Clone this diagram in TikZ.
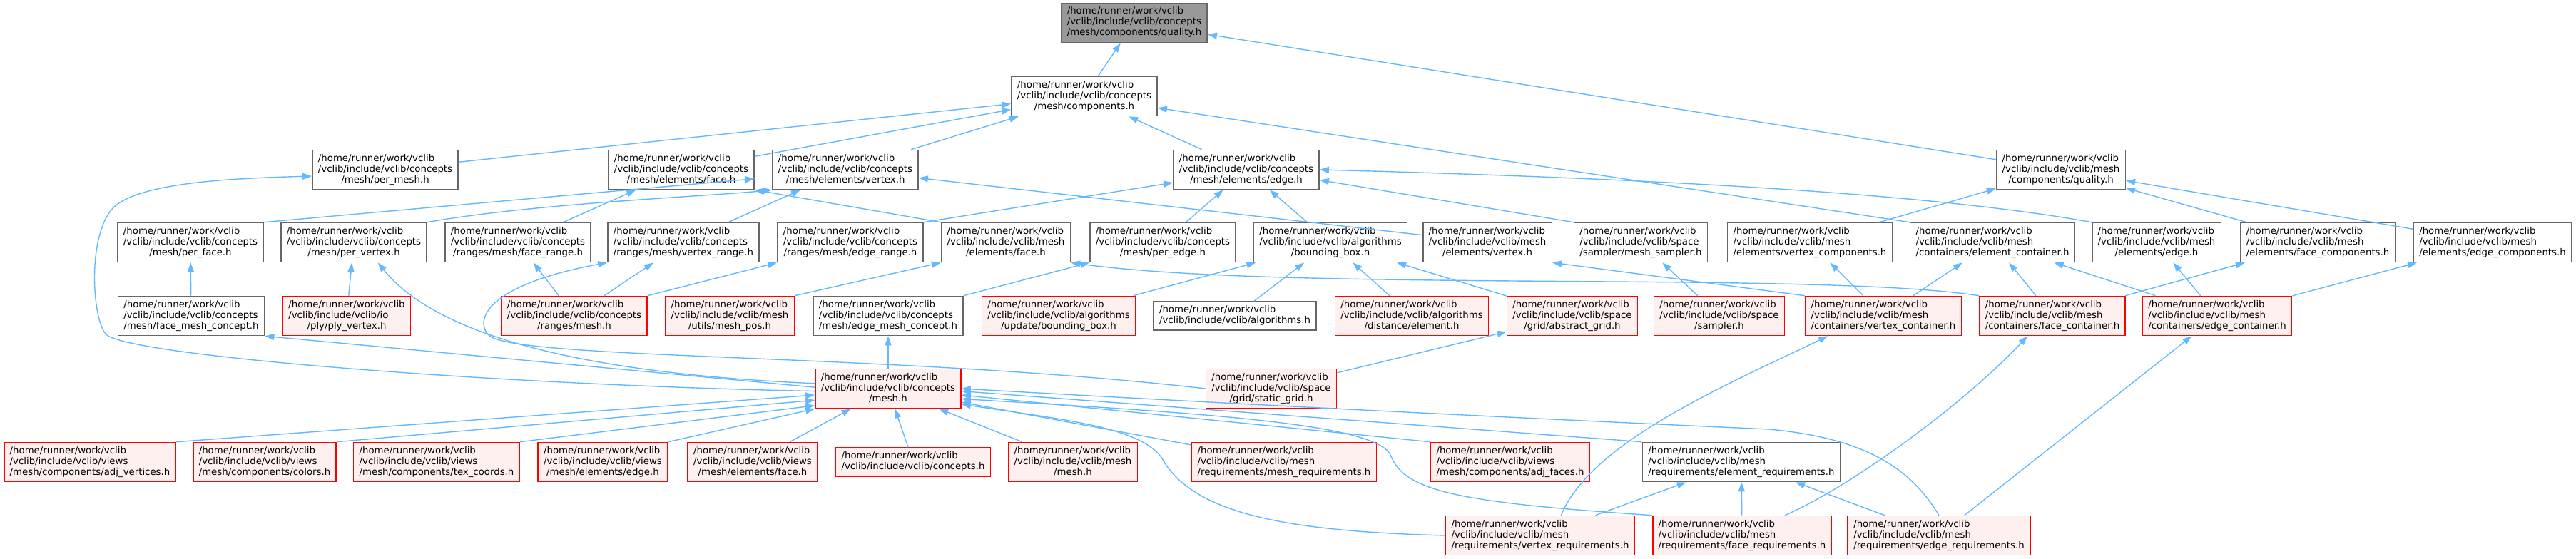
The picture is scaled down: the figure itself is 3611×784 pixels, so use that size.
\documentclass[tikz,border=0pt]{standalone}
\usepackage{fontspec}
\setmainfont{DejaVu Sans}
\usepackage{tikz}
\usetikzlibrary{arrows.meta}

\definecolor{depblue}{HTML}{63B8FF}
\definecolor{boxgrey}{HTML}{666666}
\definecolor{truncfill}{HTML}{FFF0F0}
\definecolor{rootfill}{HTML}{999999}

% three-line file label, last line centred
\newcommand{\vinc}[2]{\begin{tabular}{@{}l@{}}/home/runner/work/vclib\\/vclib/include/vclib/#1\\\multicolumn{1}{@{}c@{}}{#2}\end{tabular}}
\newcommand{\vincb}[1]{\begin{tabular}{@{}l@{}}/home/runner/work/vclib\\/vclib/include/vclib/#1\end{tabular}}

\begin{document}
\begin{tikzpicture}[x=1pt, y=-1pt,
  file/.style={draw=boxgrey, fill=white, line width=1.6pt, inner xsep=8pt, inner ysep=5pt,
    font=\fontsize{13.3}{15}\selectfont},
  trunc/.style={file, draw=red, fill=truncfill},
  rootfile/.style={file, fill=rootfill},
  dep/.style={draw=depblue, line width=1.4pt, -{Triangle[length=13pt,width=9pt]}}]
  \useasboundingbox (0,0) rectangle (3611,784);

  % levels 0 - 2
  \node[rootfile] (root) at (1590,32) {\vinc{concepts}{/mesh/components/quality.h}};
  \node[file] (comp) at (1520,135) {\vinc{concepts}{/mesh/components.h}};
  \node[file] (permesh) at (540,238) {\vinc{concepts}{/mesh/per\_mesh.h}};
  \node[file] (cface) at (955,238) {\vinc{concepts}{/mesh/elements/face.h}};
  \node[file] (cvert) at (1185,238) {\vinc{concepts}{/mesh/elements/vertex.h}};
  \node[file] (cedge) at (1747,238) {\vinc{concepts}{/mesh/elements/edge.h}};
  \node[file] (mqual) at (2889,238) {\vinc{mesh}{/components/quality.h}};

  % level 3
  \node[file] (perface) at (267,340) {\vinc{concepts}{/mesh/per\_face.h}};
  \node[file] (pervert) at (496,340) {\vinc{concepts}{/mesh/per\_vertex.h}};
  \node[file] (facerng) at (726,340) {\vinc{concepts}{/ranges/mesh/face\_range.h}};
  \node[file] (vertrng) at (958,340) {\vinc{concepts}{/ranges/mesh/vertex\_range.h}};
  \node[file] (edgerng) at (1192,340) {\vinc{concepts}{/ranges/mesh/edge\_range.h}};
  \node[file] (mface) at (1410,340) {\vinc{mesh}{/elements/face.h}};
  \node[file] (peredge) at (1630,340) {\vinc{concepts}{/mesh/per\_edge.h}};
  \node[file] (bbox) at (1865,340) {\vinc{algorithms}{/bounding\_box.h}};
  \node[file] (mvert) at (2085,340) {\vinc{mesh}{/elements/vertex.h}};
  \node[file] (msampler) at (2300,340) {\vinc{space}{/sampler/mesh\_sampler.h}};
  \node[file] (vcomp) at (2537,340) {\vinc{mesh}{/elements/vertex\_components.h}};
  \node[file] (elemcont) at (2793,340) {\vinc{mesh}{/containers/element\_container.h}};
  \node[file] (medge) at (3023,340) {\vinc{mesh}{/elements/edge.h}};
  \node[file] (fcomp) at (3249,340) {\vinc{mesh}{/elements/face\_components.h}};
  \node[file] (ecomp) at (3494,340) {\vinc{mesh}{/elements/edge\_components.h}};

  % level 4
  \node[file] (fmconc) at (268,443) {\vinc{concepts}{/mesh/face\_mesh\_concept.h}};
  \node[trunc] (plyvert) at (486,443) {\vinc{io}{/ply/ply\_vertex.h}};
  \node[trunc] (rmesh) at (805,443) {\vinc{concepts}{/ranges/mesh.h}};
  \node[trunc] (meshpos) at (1023,443) {\vinc{mesh}{/utils/mesh\_pos.h}};
  \node[file] (emconc) at (1245,443) {\vinc{concepts}{/mesh/edge\_mesh\_concept.h}};
  \node[trunc] (updbbox) at (1484,443) {\vinc{algorithms}{/update/bounding\_box.h}};
  \node[file] (algo) at (1731,443) {\vincb{algorithms.h}};
  \node[trunc] (distelem) at (1979,443) {\vinc{algorithms}{/distance/element.h}};
  \node[trunc] (absgrid) at (2204,443) {\vinc{space}{/grid/abstract\_grid.h}};
  \node[trunc] (sampler) at (2410,443) {\vinc{space}{/sampler.h}};
  \node[trunc] (vcont) at (2640,443) {\vinc{mesh}{/containers/vertex\_container.h}};
  \node[trunc] (fcont) at (2877,443) {\vinc{mesh}{/containers/face\_container.h}};
  \node[trunc] (econt) at (3108,443) {\vinc{mesh}{/containers/edge\_container.h}};

  % level 5
  \node[trunc] (cmesh) at (1245,545) {\vinc{concepts}{/mesh.h}};
  \node[trunc] (sgrid) at (1782,545) {\vinc{space}{/grid/static\_grid.h}};

  % levels 6 - 7
  \node[trunc] (adjvert) at (126,648) {\vinc{views}{/mesh/components/adj\_vertices.h}};
  \node[trunc] (colors) at (371,648) {\vinc{views}{/mesh/components/colors.h}};
  \node[trunc] (texco) at (612,648) {\vinc{views}{/mesh/components/tex\_coords.h}};
  \node[trunc] (vedge) at (845,648) {\vinc{views}{/mesh/elements/edge.h}};
  \node[trunc] (vface) at (1055,648) {\vinc{views}{/mesh/elements/face.h}};
  \node[trunc] (conc) at (1280,648) {\vincb{concepts.h}};
  \node[trunc] (mmesh) at (1504,648) {\vinc{mesh}{/mesh.h}};
  \node[trunc] (meshreq) at (1800,648) {\vinc{mesh}{/requirements/mesh\_requirements.h}};
  \node[trunc] (adjface) at (2117,648) {\vinc{views}{/mesh/components/adj\_faces.h}};
  \node[file] (elemreq) at (2441,648) {\vinc{mesh}{/requirements/element\_requirements.h}};
  \node[trunc] (vertreq) at (2159,751) {\vinc{mesh}{/requirements/vertex\_requirements.h}};
  \node[trunc] (facereq) at (2442,751) {\vinc{mesh}{/requirements/face\_requirements.h}};
  \node[trunc] (edgereq) at (2718,751) {\vinc{mesh}{/requirements/edge\_requirements.h}};

  % includes, upper part
  \draw[dep] (comp) -- (root);
  \draw[dep] (mqual) -- (root);
  \draw[dep] (permesh) -- (comp);
  \draw[dep] (cface) -- (comp);
  \draw[dep] (cvert) -- (comp);
  \draw[dep] (cedge) -- (comp);
  \draw[dep] (elemcont.north west) -- (comp.-9);
  \draw[dep] (perface.north east) -- (cface.-7);
  \draw[dep] (facerng) -- (cface);
  \draw[dep] (mface.north west) -- (cface.south east);
  \draw[dep] (pervert.north east) .. controls (750,285) and (1000,275) .. (cvert.south west);
  \draw[dep] (vertrng) -- (cvert);
  \draw[dep] (mvert) -- (cvert);
  \draw[dep] (edgerng.north east) -- (cedge.190);
  \draw[dep] (peredge) -- (cedge);
  \draw[dep] (bbox) -- (cedge);
  \draw[dep] (msampler.north west) -- (cedge.-8);
  \draw[dep] (medge.north west) .. controls (2700,270) and (2300,250) .. (cedge.east);
  \draw[dep] (vcomp) -- (mqual);
  \draw[dep] (fcomp) -- (mqual);
  \draw[dep] (ecomp) -- (mqual);

  % level 4 -> 3
  \draw[dep] (fmconc) -- (perface);
  \draw[dep] (plyvert) -- (pervert);
  \draw[dep] (rmesh) -- (facerng);
  \draw[dep] (rmesh) -- (vertrng);
  \draw[dep] (rmesh.north east) -- (edgerng.south west);
  \draw[dep] (meshpos.north east) -- (mface.south west);
  \draw[dep] (emconc.north east) -- (peredge.south west);
  \draw[dep] (fcont.north west) .. controls (2550,380) and (1800,410) .. (mface.south east);
  \draw[dep] (updbbox) -- (bbox);
  \draw[dep] (algo) -- (bbox);
  \draw[dep] (distelem) -- (bbox);
  \draw[dep] (absgrid) -- (bbox);
  \draw[dep] (vcont.north west) -- (mvert.south east);
  \draw[dep] (sampler) -- (msampler);
  \draw[dep] (vcont) -- (vcomp);
  \draw[dep] (vcont) -- (elemcont);
  \draw[dep] (fcont) -- (elemcont);
  \draw[dep] (fcont) -- (fcomp);
  \draw[dep] (econt) -- (elemcont);
  \draw[dep] (econt) -- (medge);
  \draw[dep] (econt) -- (ecomp);

  % concepts/mesh.h and static grid
  \draw[dep] (cmesh.182) .. controls (700,540) and (190,500) .. (150,470)
    .. controls (130,455) and (120,330) .. (160,290)
    .. controls (200,255) and (330,250) .. (permesh.185);
  \draw[dep] (cmesh.176) .. controls (850,525) and (620,480) .. (pervert.-40);
  \draw[dep] (cmesh.179) -- (fmconc.south east);
  \draw[dep] (cmesh) -- (emconc);
  \draw[dep] (sgrid.west) .. controls (1250,495) and (720,505) .. (685,470)
    .. controls (665,450) and (680,400) .. (vertrng.south west);
  \draw[dep] (sgrid) -- (absgrid);

  % bottom rows -> concepts/mesh.h
  \draw[dep] (adjvert.north east) -- (cmesh.185);
  \draw[dep] (colors.north east) -- (cmesh.189);
  \draw[dep] (texco.north east) -- (cmesh.193);
  \draw[dep] (vedge.north east) -- (cmesh.south west);
  \draw[dep] (vface) -- (cmesh);
  \draw[dep] (conc) -- (cmesh);
  \draw[dep] (mmesh) -- (cmesh);
  \draw[dep] (meshreq) -- (cmesh);
  \draw[dep] (adjface.north west) -- (cmesh.-5);
  \draw[dep] (elemreq.north west) -- (cmesh.-2);
  \draw[dep] (vertreq.west) .. controls (1800,745) and (1680,720) .. (1633,650)
    .. controls (1610,600) and (1500,590) .. (cmesh.-12);
  \draw[dep] (facereq.north west) .. controls (2050,705) and (1970,690) .. (1950,640)
    .. controls (1935,595) and (1700,580) .. (cmesh.-8);
  \draw[dep] (edgereq.north) .. controls (2680,660) and (2620,615) .. (2480,602)
    .. controls (2100,585) and (1700,565) .. (cmesh.east);

  % requirements
  \draw[dep] (vertreq) -- (elemreq);
  \draw[dep] (facereq) -- (elemreq);
  \draw[dep] (edgereq) -- (elemreq);
  \draw[dep] (vertreq.44) .. controls (2230,620) and (2420,540) .. (vcont.200);
  \draw[dep] ([xshift=60pt]facereq.north) .. controls (2600,680) and (2760,560) .. (fcont.219);
  \draw[dep] (edgereq) -- (econt);
\end{tikzpicture}
\end{document}
